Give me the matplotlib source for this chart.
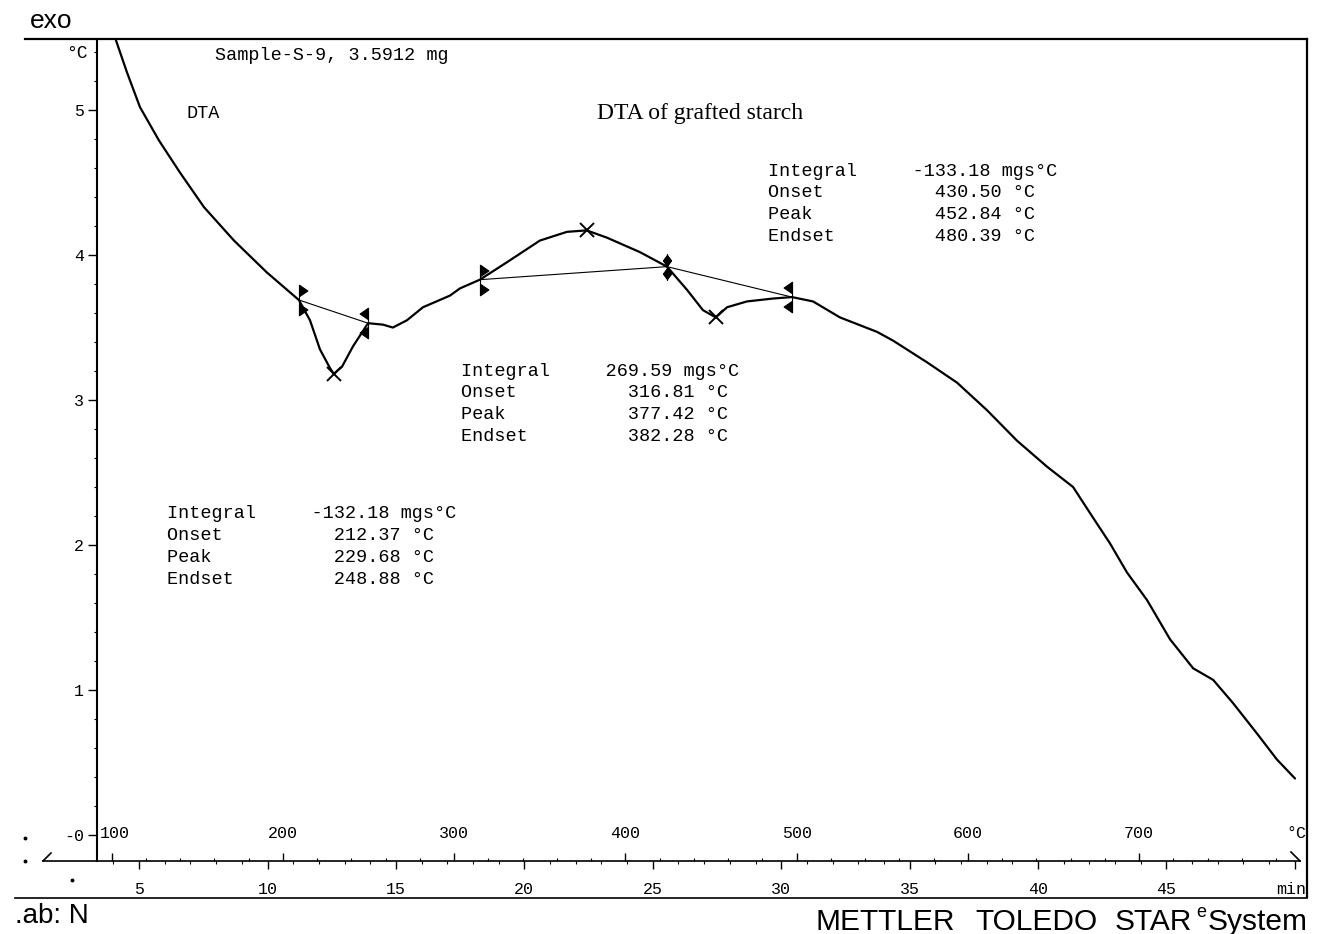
import numpy as np
import matplotlib
matplotlib.use("Agg")
import matplotlib.pyplot as plt
from matplotlib.lines import Line2D
from matplotlib.path import Path
from matplotlib.transforms import blended_transform_factory

# ---- DTA trace: sample temperature (°C) vs DTA signal (°C) ----
temp_c = [101.0, 102.5, 108.9, 116.5, 127.6, 139.8, 153.9, 171.4, 190.6, 209.3,
          215.8, 221.6, 227.5, 229.7, 234.5, 240.9, 249.7, 258.4, 264.2, 272.4,
          281.8, 297.5, 303.4, 315.0, 330.8, 350.1, 365.9, 377.4, 389.2, 408.5,
          424.3, 436.0, 445.3, 452.8, 459.4, 471.0, 486.2, 497.3, 509.6, 525.3,
          547.0, 556.3, 576.2, 593.7, 611.2, 628.7, 646.3, 661.5, 671.4, 683.1,
          693.0, 704.7, 718.1, 731.6, 743.3, 754.9, 768.9, 780.6, 791.1]
dta_c = [5.56, 5.48, 5.26, 5.02, 4.79, 4.57, 4.33, 4.10, 3.88, 3.69,
         3.55, 3.35, 3.22, 3.18, 3.23, 3.37, 3.53, 3.52, 3.50, 3.55,
         3.64, 3.72, 3.77, 3.83, 3.95, 4.10, 4.16, 4.17, 4.12, 4.02,
         3.92, 3.76, 3.62, 3.57, 3.64, 3.68, 3.70, 3.71, 3.68, 3.57,
         3.47, 3.41, 3.26, 3.12, 2.93, 2.72, 2.54, 2.40, 2.22, 2.01,
         1.81, 1.62, 1.35, 1.15, 1.07, 0.91, 0.70, 0.52, 0.39]

# integration limits (°C) and evaluated peaks
limits = [(209.3, 249.7), (315.0, 424.3), (424.3, 497.3)]
peak_temps = [229.68, 377.42, 452.84]
integrals = ["-132.18", "269.59", "-133.18"]
onsets = ["212.37", "316.81", "430.50"]
peaks = ["229.68", "377.42", "452.84"]
endsets = ["248.88", "382.28", "480.39"]

y_ticks = [0, 1, 2, 3, 4, 5]
y_ticklabels = ["-0", "1", "2", "3", "4", "5"]
temp_ticks = [100, 200, 300, 400, 500, 600, 700]
time_ticks = [5, 10, 15, 20, 25, 30, 35, 40, 45, 50]
time_ticklabels = ["5", "10", "15", "20", "25", "30", "35", "40", "45", ""]
heating_rate = 15.0     # K/min
temp_at_t0 = 41.0       # °C

W, H = 1317, 934
MONO = "Liberation Mono"
SANS = "Liberation Sans"
SERIF = "Liberation Serif"


def fx(px):
    return px / W


def fy(py):
    return 1 - py / H


fig = plt.figure(figsize=(W / 100, H / 100), dpi=100)
ax = fig.add_axes([fx(97), fy(861), (1307 - 97) / W, (861 - 40) / H])
ax.set_xlim(91.4, 798.1)
ax.set_ylim(-0.179, 5.483)

for s in ["top", "right", "bottom"]:
    ax.spines[s].set_visible(False)
ax.spines["left"].set_linewidth(1.5)

# main curve
ax.plot(temp_c, dta_c, color="black", lw=1.6, solid_joinstyle="round",
        solid_capstyle="round")

# baselines and limit markers
flag_r = Path([(0, 0.25), (0, 1), (0.55, 0.62), (0, 0.25),
               (0, -0.25), (0, -1), (0.55, -0.62), (0, -0.25),
               (0, -1), (0, 1)],
              [Path.MOVETO, Path.LINETO, Path.LINETO, Path.CLOSEPOLY,
               Path.MOVETO, Path.LINETO, Path.LINETO, Path.CLOSEPOLY,
               Path.MOVETO, Path.LINETO])
flag_l = Path(flag_r.vertices * np.array([-1, 1]), flag_r.codes)
diamonds = Path([(0, 0.1), (0.3, 0.5), (0, 0.9), (-0.3, 0.5), (0, 0.1),
                 (0, -0.1), (0.3, -0.5), (0, -0.9), (-0.3, -0.5), (0, -0.1),
                 (0, -1), (0, 1)],
                [Path.MOVETO, Path.LINETO, Path.LINETO, Path.LINETO, Path.CLOSEPOLY,
                 Path.MOVETO, Path.LINETO, Path.LINETO, Path.LINETO, Path.CLOSEPOLY,
                 Path.MOVETO, Path.LINETO])

for i, (t0, t1) in enumerate(limits):
    y0 = np.interp(t0, temp_c, dta_c)
    y1 = np.interp(t1, temp_c, dta_c)
    ax.plot([t0, t1], [y0, y1], color="black", lw=0.8)
    m0 = flag_r if i != 2 else diamonds
    m1 = flag_l if i != 1 else diamonds
    for t, y, m in ((t0, y0, m0), (t1, y1, m1)):
        size = 19 if m is diamonds else 22
        ax.plot([t], [y], marker=m, markersize=size, color="black",
                markeredgewidth=0.8, linestyle="none")

for tp in peak_temps:
    ax.plot([tp], [np.interp(tp, temp_c, dta_c)], marker="x", markersize=10,
            markeredgewidth=1.4, color="black", linestyle="none")

# y axis
ax.set_yticks(y_ticks)
ax.set_yticklabels(y_ticklabels, fontfamily=MONO, fontsize=12)
ax.set_yticks(np.arange(0, 5.41, 0.2), minor=True)
ax.tick_params(axis="y", which="major", direction="out", length=6.5, width=1.0, pad=3)
ax.tick_params(axis="y", which="minor", direction="out", length=2.2, width=0.8)

# temperature axis (ticks point up, labels above the line)
ax.set_xticks(temp_ticks)
ax.set_xticks(np.arange(100, 800, 20), minor=True)
ax.tick_params(axis="x", which="major", direction="in", length=5.8, width=1.0,
               labelbottom=False)
ax.tick_params(axis="x", which="minor", direction="in", length=2.2, width=0.8)
tr = blended_transform_factory(ax.transData, ax.transAxes)
ylab = (861 - 834) / (861 - 40)
for t in temp_ticks:
    if t == temp_ticks[0]:
        ax.text(t - 7, ylab, str(t), transform=tr, ha="left", va="center",
                fontfamily=MONO, fontsize=12)
    else:
        ax.text(t, ylab, str(t), transform=tr, ha="center", va="center",
                fontfamily=MONO, fontsize=12)
fig.text(fx(1306), fy(834), "°C", ha="right", va="center", fontfamily=MONO, fontsize=12)

# time axis
sec = ax.secondary_xaxis("bottom",
                         functions=(lambda T: (T - temp_at_t0) / heating_rate,
                                    lambda t: t * heating_rate + temp_at_t0))
sec.spines["bottom"].set_visible(False)
sec.set_xticks(time_ticks)
sec.set_xticklabels(time_ticklabels, fontfamily=MONO, fontsize=12)
sec.set_xticks(np.arange(4, 51, 1), minor=True)
sec.tick_params(axis="x", which="major", direction="out", length=5.8, width=1.0, pad=9)
sec.tick_params(axis="x", which="minor", direction="out", length=2.2, width=0.8)
fig.text(fx(1306), fy(889), "min", ha="right", va="center", fontfamily=MONO, fontsize=12)

# frame lines
def fline(xs, ys, lw=1.5):
    fig.add_artist(Line2D([fx(x) for x in xs], [fy(y) for y in ys],
                          color="black", lw=lw, transform=fig.transFigure))

fline([25, 1307], [39, 39], lw=1.6)          # top
fline([1307, 1307], [39, 897], lw=1.6)       # right
fline([43, 1300], [861, 861], lw=1.2)        # time/temperature axis
fline([43, 51], [861, 853], lw=1.2)
fline([1291, 1300], [852, 861], lw=1.2)
fline([15, 1307], [898, 898], lw=1.2)        # bottom
for (x, y) in [(25, 838), (25, 861), (72, 880)]:
    fig.add_artist(Line2D([fx(x)], [fy(y)], marker="o", markersize=1.8,
                          color="black", transform=fig.transFigure))

# texts
fig.text(fx(30), fy(28), "exo", ha="left", va="baseline", fontfamily=SANS, fontsize=19)
fig.text(fx(88), fy(53), "°C", ha="right", va="center", fontfamily=MONO, fontsize=13)
fig.text(fx(215), fy(55), "Sample-S-9, 3.5912 mg", ha="left", va="center",
         fontfamily=MONO, fontsize=13.3)
fig.text(fx(186), fy(114), "DTA", ha="left", va="center", fontfamily=MONO, fontsize=13.3)
fig.text(fx(597), fy(114), "DTA of grafted starch", ha="left", va="center",
         fontfamily=SERIF, fontsize=17)

blocks_xy = [(167, 514), (461, 371), (768, 171)]
for (bx, by), ig, on, pk, en in zip(blocks_xy, integrals, onsets, peaks, endsets):
    lines = [
        "Integral".ljust(13) + f"{ig} mgs°C",
        "Onset".ljust(15) + f"{on} °C",
        "Peak".ljust(15) + f"{pk} °C",
        "Endset".ljust(15) + f"{en} °C",
    ]
    for k, line in enumerate(lines):
        fig.text(fx(bx), fy(by + 21.7 * k), line, ha="left", va="center",
                 fontfamily=MONO, fontsize=13.3)

fig.text(fx(15), fy(923), ".ab: N", ha="left", va="baseline", fontfamily=SANS, fontsize=20)
for word, xpos in (("METTLER", 815), ("TOLEDO", 975), ("STAR", 1115)):
    fig.text(fx(xpos), fy(930), word, ha="left", va="baseline",
             fontfamily=SANS, fontsize=21.5)
fig.text(fx(1196), fy(917), "e", ha="left", va="baseline", fontfamily=SANS, fontsize=13)
fig.text(fx(1308), fy(930), "System", ha="right", va="baseline",
         fontfamily=SANS, fontsize=21.5)

fig.savefig("out.png", dpi=100, facecolor="white")
